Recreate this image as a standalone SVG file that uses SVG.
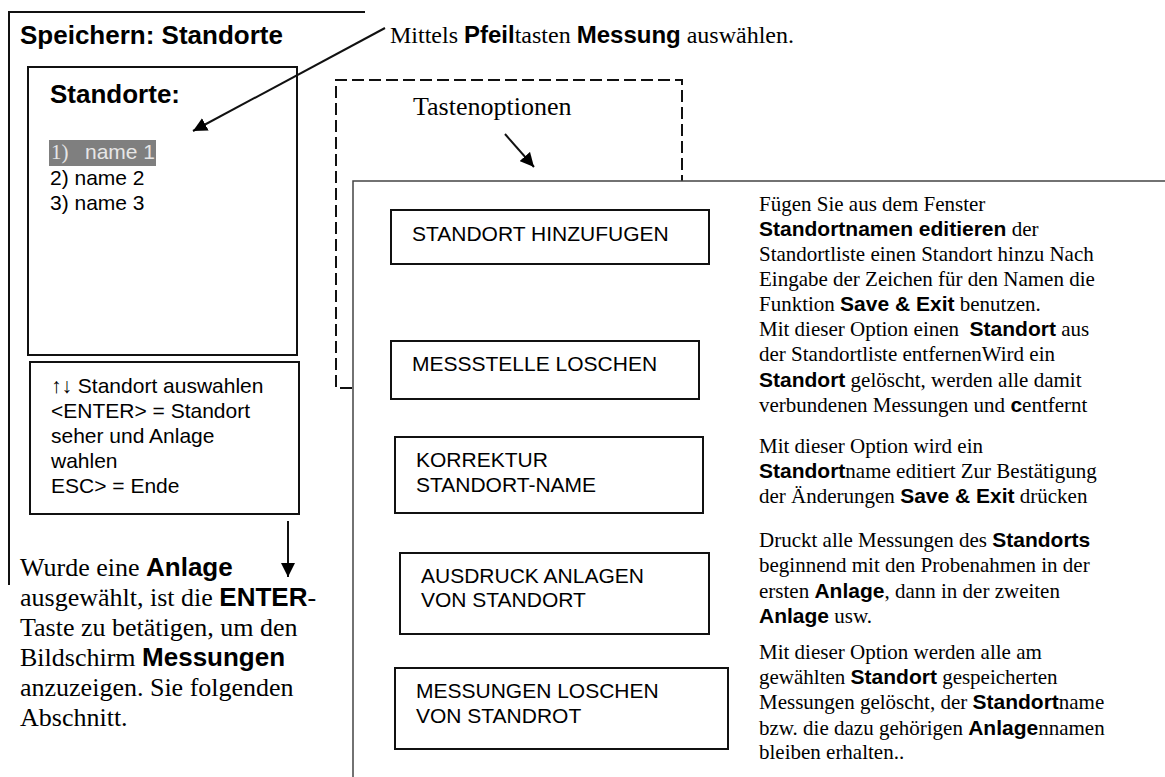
<svg xmlns="http://www.w3.org/2000/svg" width="1165" height="777" viewBox="0 0 1165 777">
<style>
.ser{font-family:"Liberation Serif","Times New Roman",serif;fill:#000}
.san{font-family:"Liberation Sans",Arial,sans-serif;fill:#000}
.b{font-family:"Liberation Sans",Arial,sans-serif;font-weight:bold}
.box{fill:#fff;stroke:#111;stroke-width:2}
.ln{stroke:#111;stroke-width:2;fill:none}
.f21{font-size:21px}
.f24{font-size:24px}
.f26{font-size:26px}
</style>
<defs>
<marker id="ah" markerUnits="userSpaceOnUse" markerWidth="16" markerHeight="14" refX="14" refY="7" orient="auto">
<path d="M0,0 L14,7 L0,14 Z" fill="#000"/>
</marker>
</defs>
<rect width="1165" height="777" fill="#fff"/>

<g id="outer-frame">
<path class="ln" d="M365,12 H9 V585"/>
<text class="b f26" x="20" y="44">Speichern: Standorte</text>
</g>

<g id="dashed-options">
<path d="M352,388 H336 V80 H682 V181" fill="none" stroke="#111" stroke-width="2" stroke-dasharray="12 5"/>
<text class="ser f26" x="413" y="115">Tastenoptionen</text>
</g>

<g id="list-screen">
<rect class="box" x="28" y="67" width="269" height="288"/>
<text class="b f26" x="50" y="103">Standorte:</text>
<rect x="49" y="140" width="107" height="26" fill="#7f7f7f"/>
<text x="51" y="159" class="f21"><tspan font-family="Liberation Serif, serif" fill="#e6e6e6">1)</tspan><tspan font-family="Liberation Sans, Arial, sans-serif" fill="#e6e6e6" x="85">name 1</tspan></text>
<text class="san f21" x="50" y="185">2) name 2</text>
<text class="san f21" x="50" y="210">3) name 3</text>
</g>

<g id="key-help">
<rect class="box" x="30" y="362" width="269" height="152"/>
<text class="san f21" x="51" y="393">↑↓ Standort auswahlen</text>
<text class="san f21" x="51" y="418">&lt;ENTER&gt; = Standort</text>
<text class="san f21" x="51" y="443">seher und Anlage</text>
<text class="san f21" x="51" y="468">wahlen</text>
<text class="san f21" x="51" y="493">ESC&gt; = Ende</text>
</g>

<g id="annotation-top">
<text class="ser f24" x="390" y="43">Mittels <tspan class="b">Pfeil</tspan>tasten <tspan class="b">Messung</tspan> auswählen.</text>
</g>

<g id="annotation-bottom">
<text class="ser f26" x="20" y="576">Wurde eine <tspan class="b">Anlage</tspan></text>
<text class="ser f26" x="20" y="606">ausgewählt, ist die <tspan class="b">ENTER</tspan>-</text>
<text class="ser f26" x="20" y="636">Taste zu betätigen, um den</text>
<text class="ser f26" x="20" y="666">Bildschirm <tspan class="b">Messungen</tspan></text>
<text class="ser f26" x="20" y="696">anzuzeigen. Sie folgenden</text>
<text class="ser f26" x="20" y="726">Abschnitt.</text>
</g>

<g id="options-panel">
<rect x="353" y="181" width="900" height="700" fill="#fff" stroke="#444" stroke-width="1.5"/>
</g>

<g id="opt-add">
<rect class="box" x="391" y="210" width="318" height="54"/>
<text class="san f21" x="412" y="241">STANDORT HINZUFUGEN</text>
</g>
<g id="opt-delete">
<rect class="box" x="391" y="341" width="308" height="58"/>
<text class="san f21" x="412" y="371">MESSSTELLE LOSCHEN</text>
</g>
<g id="opt-rename">
<rect class="box" x="395" y="437" width="308" height="76"/>
<text class="san f21" x="416" y="467">KORREKTUR</text>
<text class="san f21" x="416" y="492">STANDORT-NAME</text>
</g>
<g id="opt-print">
<rect class="box" x="400" y="553" width="309" height="81"/>
<text class="san f21" x="421" y="583">AUSDRUCK ANLAGEN</text>
<text class="san f21" x="421" y="607">VON STANDORT</text>
</g>
<g id="opt-clear">
<rect class="box" x="395" y="668" width="333" height="81"/>
<text class="san f21" x="416" y="698">MESSUNGEN LOSCHEN</text>
<text class="san f21" x="416" y="723">VON STANDROT</text>
</g>

<g id="desc-add">
<text class="ser f21" x="759" y="211">Fügen Sie aus dem Fenster</text>
<text class="ser f21" x="759" y="236"><tspan class="b">Standortnamen editieren</tspan> der</text>
<text class="ser f21" x="759" y="261">Standortliste einen Standort hinzu Nach</text>
<text class="ser f21" x="759" y="286">Eingabe der Zeichen für den Namen die</text>
<text class="ser f21" x="759" y="311">Funktion <tspan class="b">Save &amp; Exit</tspan> benutzen.</text>
</g>
<g id="desc-delete">
<text class="ser f21" x="759" y="336" xml:space="preserve">Mit dieser Option einen  <tspan class="b">Standort</tspan> aus</text>
<text class="ser f21" x="759" y="361">der Standortliste entfernenWird ein</text>
<text class="ser f21" x="759" y="387"><tspan class="b">Standort</tspan> gelöscht, werden alle damit</text>
<text class="ser f21" x="759" y="412">verbundenen Messungen und <tspan class="b">c</tspan>entfernt</text>
</g>
<g id="desc-rename">
<text class="ser f21" x="759" y="453">Mit dieser Option wird ein</text>
<text class="ser f21" x="759" y="478"><tspan class="b">Standort</tspan>name editiert Zur Bestätigung</text>
<text class="ser f21" x="759" y="503">der Änderungen <tspan class="b">Save &amp; Exit</tspan> drücken</text>
</g>
<g id="desc-print">
<text class="ser f21" x="759" y="547">Druckt alle Messungen des <tspan class="b">Standorts</tspan></text>
<text class="ser f21" x="759" y="572">beginnend mit den Probenahmen in der</text>
<text class="ser f21" x="759" y="598">ersten <tspan class="b">Anlage</tspan>, dann in der zweiten</text>
<text class="ser f21" x="759" y="623"><tspan class="b">Anlage</tspan> usw.</text>
</g>
<g id="desc-clear">
<text class="ser f21" x="759" y="659">Mit dieser Option werden alle am</text>
<text class="ser f21" x="759" y="684">gewählten <tspan class="b">Standort</tspan> gespeicherten</text>
<text class="ser f21" x="759" y="709">Messungen gelöscht, der <tspan class="b">Standort</tspan>name</text>
<text class="ser f21" x="759" y="735">bzw. die dazu gehörigen <tspan class="b">Anlage</tspan>nnamen</text>
<text class="ser f21" x="759" y="759">bleiben erhalten..</text>
</g>

<g id="connectors">
<line class="ln" x1="385" y1="28" x2="193" y2="131" marker-end="url(#ah)"/>
<line class="ln" x1="505" y1="134" x2="534" y2="167" marker-end="url(#ah)"/>
<line class="ln" x1="288" y1="521" x2="288" y2="577" marker-end="url(#ah)"/>
</g>
</svg>
